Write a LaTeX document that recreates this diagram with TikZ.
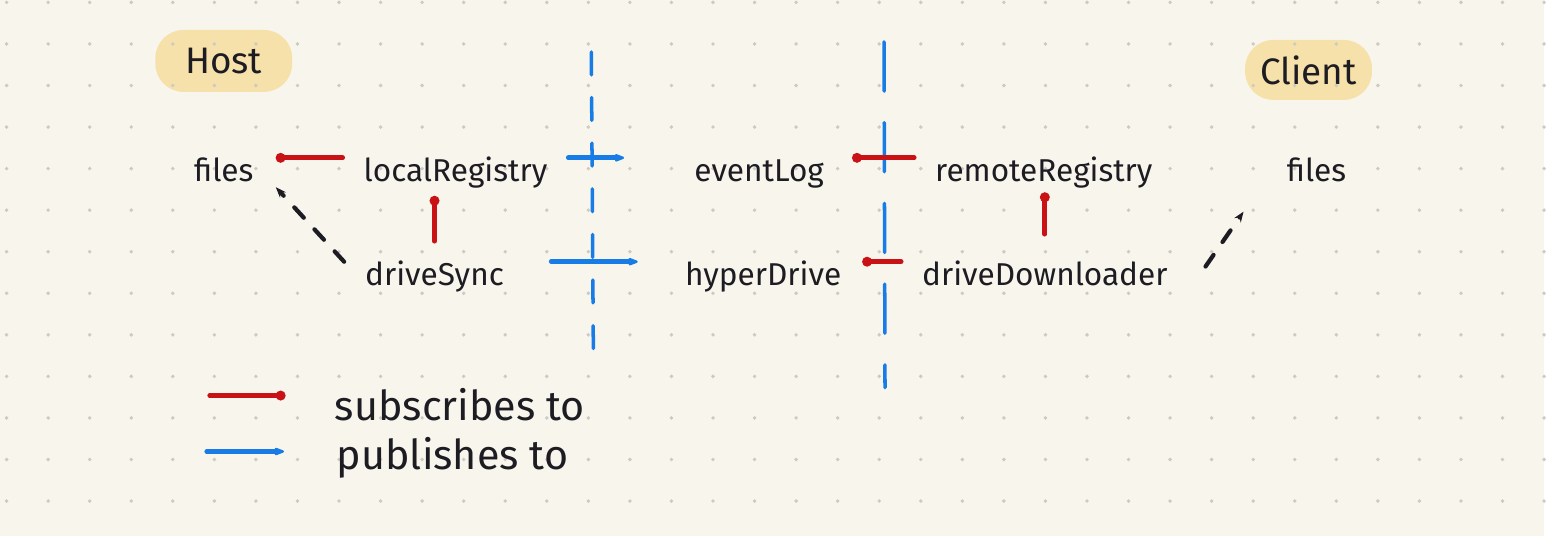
\documentclass[tikz,border=0pt]{standalone}
\usepackage{fontspec}
\setmainfont{Fira Sans}
\usetikzlibrary{arrows.meta}

\definecolor{paper}{RGB}{248,246,236}
\definecolor{griddot}{RGB}{204,202,196}
\definecolor{hilite}{RGB}{246,222,160}
\definecolor{subred}{RGB}{200,18,22}
\definecolor{pubblue}{RGB}{24,124,230}
\definecolor{ink}{RGB}{28,28,34}

\begin{document}
\begin{tikzpicture}[x=0.02cm, y=-0.02cm,
	lbl/.style={font=\fontsize{18}{21}\selectfont, text=ink, inner sep=0pt, outer xsep=12pt, text height=30pt, text depth=3pt},
	side/.style={font=\fontsize{21}{24}\selectfont, text=ink, fill=hilite, fill opacity=0.85, text opacity=1, rounded corners=16pt, inner sep=0pt},
	legend/.style={font=\fontsize{23.5}{27}\selectfont, text=ink, inner sep=0pt, anchor=west},
	sub/.style={subred, line width=2.7pt, line cap=round, -{Circle[length=5.5pt]}},
	pub/.style={pubblue, line width=2.7pt, line cap=round, -{Stealth[length=8pt, round]}},
	sync/.style={ink, line width=2.4pt, line cap=round, dash pattern=on 8pt off 9pt, -{Stealth[length=6pt]}},
	divider/.style={pubblue, line width=2pt, line cap=round}]

	%% Papier
	\fill[paper] (0,0) rectangle (1546,537);

	%% Seiten
	\node[side, minimum width=2.74cm, minimum height=1.24cm] (host) at (224,61) {Host};
	\node[side, minimum width=2.54cm, minimum height=1.2cm] (client) at (1310,70) {Client};

	%% Punktraster
	\foreach \i in {0,...,37}
		\foreach \j in {0,...,12}
			\fill[griddot] (6.6+41.6*\i, 2.4+41.6*\j) circle (1.1pt);

	%% Trennlinien
	\draw[divider, dash pattern=on 13pt off 13pt] (592,52) -- (594,350);
	\draw[divider, dash pattern=on 28pt off 18pt] (885,42) -- (886,388);

	%%%%%%%%%%%%%%%%

	%% Knoten
	\node[lbl, minimum width=1.24cm] (hostfiles) at (224,158) {files};
	\node[lbl, minimum width=3.64cm] (localreg) at (456,158) {localRegistry};
	\node[lbl, minimum width=2.88cm] (eventlog) at (760,158) {eventLog};
	\node[lbl, minimum width=4cm] (remotereg) at (1045,158) {remoteRegistry};
	\node[lbl, minimum width=1.4cm] (clientfiles) at (1318,158) {files};

	\node[lbl, minimum width=2.6cm] (drivesync) at (435,262) {driveSync};
	\node[lbl, minimum width=3.04cm] (hyperdrive) at (764,262) {hyperDrive};
	\node[lbl, minimum width=2.86cm] (drivedl) at (1046,262) {driveDownloader};

	%% subscribes to
	\draw[sub] (localreg) -- (hostfiles);
	\draw[sub, shorten <=-5pt, shorten >=5pt] (drivesync.north) -- (drivesync.north |- localreg.south);
	\draw[sub] (remotereg) -- (eventlog);
	\draw[sub] (drivedl) -- (hyperdrive);
	\draw[sub, shorten <=-1pt, shorten >=3pt] (drivedl.north) -- (drivedl.north |- remotereg.south);

	%% publishes to
	\draw[pub, shorten >=24pt] (localreg) -- (eventlog);
	\draw[pub, shorten <=15pt, shorten >=15pt] (drivesync) -- (hyperdrive);

	%% files
	\draw[sync] (drivesync.west) -- (hostfiles.south east);
	\draw[sync, shorten <=17pt, shorten >=17pt] (drivedl.south east) -- (clientfiles.south west);

	%%%%%%%%%%%%%%%%

	%% Legende
	\node[legend] (subtxt) at (335,405) {subscribes to};
	\node[legend] (pubtxt) at (337,458) {publishes to};
	\coordinate (subfrom) at (210,396);
	\coordinate (pubfrom) at (207,452);
	\draw[sub, shorten >=28pt] (subfrom) -- (subfrom -| subtxt.west);
	\draw[pub, shorten >=30pt] (pubfrom) -- (pubfrom -| pubtxt.west);
\end{tikzpicture}
\end{document}
